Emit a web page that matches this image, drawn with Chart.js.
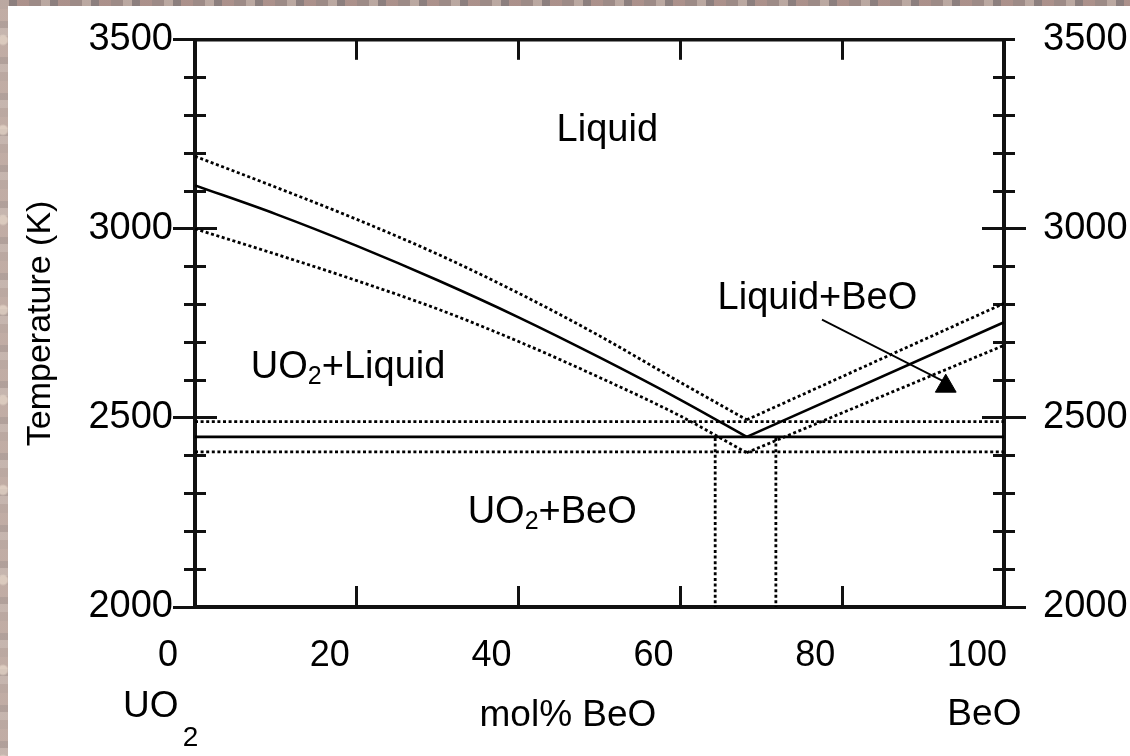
<!DOCTYPE html>
<html>
<head>
<meta charset="utf-8">
<script src="https://cdn.jsdelivr.net/npm/chart.js@4.4.1/dist/chart.umd.min.js"></script>
<style>
  html, body { margin: 0; padding: 0; }
  body {
    width: 1130px; height: 756px; overflow: hidden; position: relative;
    background-color: #9d8b87;
    background-image:
      radial-gradient(circle at 3px 40px, rgba(240,225,210,.6) 0 4px, transparent 6px),
      repeating-linear-gradient(90deg, rgba(255,236,222,.3) 0 9px, rgba(90,92,100,.25) 9px 17px, rgba(205,160,150,.3) 17px 29px, transparent 29px 41px),
      repeating-linear-gradient(0deg, rgba(255,255,255,.16) 0 8px, rgba(60,60,70,.14) 8px 15px, rgba(200,170,160,.2) 15px 27px, transparent 27px 36px);
    background-size: 60px 90px, auto, auto;
  }
  #panel { position: absolute; left: 8px; top: 6px; right: 0; bottom: 0; background: #fff; }
  #chart { position: absolute; left: 0; top: 0; }
</style>
</head>
<body>
<div id="panel"></div>
<canvas id="chart" width="1130" height="756"></canvas>
<script>
// mol% BeO along the UO2-side liquidus
var comp = [0, 10, 20, 30, 40, 50, 60, 68.2];
var liquidus = [3115, 3039, 2955, 2864, 2766, 2660, 2548, 2450];
var liqUpper = [3192, 3110, 3025, 2933, 2830, 2717, 2594, 2495];
var liqLower = [3000, 2933, 2863, 2788, 2702, 2607, 2505, 2408];

// BeO-side liquidus
var beoComp = [68.2, 100];
var beoLiq = [2450, 2753];
var beoUpper = [2495, 2803];
var beoLower = [2408, 2692];

// eutectic line and its error band, eutectic composition band
var fullComp = [0, 100];
var eutecticT = 2450;
var eutecticBand = [2490, 2410];
var bandComp = [64.3, 71.8];
var bandT = [2447, 2000];

// arrow pointing at the Liquid+BeO field
var arrowComp = [77.5, 92.6];
var arrowT = [2760, 2596];
var arrowHead = [{x: 92.8, y: 2584}];

var xTicks = [0, 100, 20];        // min, max, step
var yTicks = [2000, 3500, 500];   // min, max, major step
var yMinor = 100;

var regionNames = ['Liquid', 'UO_2+Liquid', 'UO_2+BeO', 'Liquid+BeO'];
var regionAt = [[44.7, 3232], [6.9, 2605], [33.7, 2221], [64.6, 2789]];

var axisNotes = ['UO', '2', 'mol% BeO', 'BeO'];
var axisNoteAt = [[-8.9, 1708], [-1.5, 1632], [46.1, 1684], [93, 1687]];

var FONT = '"Liberation Sans", Arial, sans-serif';
Chart.defaults.font.family = FONT;
Chart.defaults.color = '#000';

function points(xs, ys) {
  return xs.map(function (x, i) { return {x: x, y: ys[i]}; });
}

function line(xs, ys, dotted, curved) {
  return {
    data: points(xs, ys),
    borderColor: '#000',
    borderWidth: dotted ? 2.8 : 2.6,
    borderDash: dotted ? [3, 2.6] : [],
    pointRadius: 0,
    fill: false,
    cubicInterpolationMode: curved ? 'monotone' : 'default',
    tension: 0
  };
}

function plain(v) { return String(v); }

// extra zero-size axes that only draw tick marks (inside / outside)
function tickAxis(position, range, step, length, weight) {
  var horiz = position === 'top' || position === 'bottom';
  return {
    type: 'linear', position: position, min: range[0], max: range[1], weight: weight || 0,
    border: { display: false },
    grid: { drawOnChartArea: false, tickLength: length, tickWidth: 3, tickColor: '#111' },
    ticks: { display: false, stepSize: step },
    afterFit: function (s) { if (horiz) s.height = 0; else s.width = 0; }
  };
}

var datasets = [
  line(comp, liquidus, false, true),
  line(comp, liqUpper, true, true),
  line(comp, liqLower, true, true),
  line(beoComp, beoLiq, false, false),
  line(beoComp, beoUpper, true, false),
  line(beoComp, beoLower, true, false),
  line(fullComp, [eutecticT, eutecticT], false, false),
  line(fullComp, [eutecticBand[0], eutecticBand[0]], true, false),
  line(fullComp, [eutecticBand[1], eutecticBand[1]], true, false),
  line([bandComp[0], bandComp[0]], bandT, true, false),
  line([bandComp[1], bandComp[1]], bandT, true, false)
];
var arrow = line(arrowComp, arrowT, false, false);
arrow.borderWidth = 1.7;
datasets.push(arrow);
datasets.push({
  data: arrowHead, showLine: false, pointStyle: 'triangle', pointRadius: 12,
  pointBackgroundColor: '#000', pointBorderColor: '#000', pointBorderWidth: 1
});

var textPlugin = {
  id: 'phaseText',
  afterDraw: function (chart) {
    var ctx = chart.ctx, x = chart.scales.x, y = chart.scales.y;
    ctx.save();
    ctx.fillStyle = '#000';
    ctx.textBaseline = 'alphabetic';
    regionNames.forEach(function (name, i) {
      var px = x.getPixelForValue(regionAt[i][0]);
      var py = y.getPixelForValue(regionAt[i][1]);
      name.split(/(_2)/).forEach(function (part) {
        if (!part) return;
        if (part === '_2') {
          ctx.font = '25px ' + FONT;
          ctx.fillText('2', px, py + 6);
          px += ctx.measureText('2').width;
        } else {
          ctx.font = '38px ' + FONT;
          ctx.fillText(part, px, py);
          px += ctx.measureText(part).width;
        }
      });
    });
    var sizes = [37, 28, 37, 37];
    axisNotes.forEach(function (t, i) {
      ctx.font = sizes[i] + 'px ' + FONT;
      ctx.textAlign = t === 'mol% BeO' ? 'center' : 'left';
      ctx.fillText(t, x.getPixelForValue(axisNoteAt[i][0]), y.getPixelForValue(axisNoteAt[i][1]));
    });
    ctx.restore();
  }
};

var xRange = [xTicks[0], xTicks[1]];
var yRange = [yTicks[0], yTicks[1]];

new Chart(document.getElementById('chart'), {
  type: 'line',
  data: { datasets: datasets },
  plugins: [textPlugin],
  options: {
    responsive: false,
    animation: false,
    devicePixelRatio: 1,
    layout: { padding: 0 },
    plugins: { legend: { display: false }, tooltip: { enabled: false } },
    scales: {
      x: {
        type: 'linear', position: 'bottom', min: xRange[0], max: xRange[1], weight: 10,
        border: { display: true, width: 4, color: '#111' },
        grid: { drawOnChartArea: false, tickLength: -21, tickWidth: 3, tickColor: '#111' },
        ticks: { stepSize: xTicks[2], font: { size: 36 }, padding: 48, labelOffset: -27, maxRotation: 0, callback: plain },
        afterFit: function (s) { s.height = 149; }
      },
      xTop: {
        type: 'linear', position: 'top', min: xRange[0], max: xRange[1], weight: 10,
        border: { display: true, width: 3.5, color: '#111' },
        grid: { drawOnChartArea: false, tickLength: -20, tickWidth: 3, tickColor: '#111' },
        ticks: { display: false, stepSize: xTicks[2] },
        afterFit: function (s) { s.height = 37; }
      },
      y: {
        type: 'linear', position: 'left', min: yRange[0], max: yRange[1], weight: 10,
        border: { display: true, width: 4, color: '#111' },
        grid: { drawOnChartArea: false, tickLength: 22, tickWidth: 3, tickColor: '#111' },
        ticks: { stepSize: yTicks[2], font: { size: 38 }, padding: 0, callback: plain },
        title: { display: true, text: 'Temperature (K)', font: { size: 34 }, padding: { top: 20, bottom: 0 } },
        afterFit: function (s) { s.width = 195; }
      },
      yIn: tickAxis('left', yRange, yTicks[2], -22),
      yMinOut: tickAxis('left', yRange, yMinor, 11),
      yMinIn: tickAxis('left', yRange, yMinor, -11),
      yR: {
        type: 'linear', position: 'right', min: yRange[0], max: yRange[1], weight: 10,
        border: { display: true, width: 4, color: '#111' },
        grid: {
          drawOnChartArea: false, tickLength: 22, tickWidth: 3,
          tickColor: function (c) { return c.tick && c.tick.value === yRange[1] ? 'rgba(0,0,0,0)' : '#111'; }
        },
        ticks: { stepSize: yTicks[2], font: { size: 38 }, padding: 17, callback: plain },
        afterFit: function (s) { s.width = 126; }
      },
      yRIn: tickAxis('right', yRange, yTicks[2], -22),
      yRMinOut: tickAxis('right', yRange, yMinor, 11),
      yRMinIn: tickAxis('right', yRange, yMinor, -11)
    }
  }
});
</script>
</body>
</html>
